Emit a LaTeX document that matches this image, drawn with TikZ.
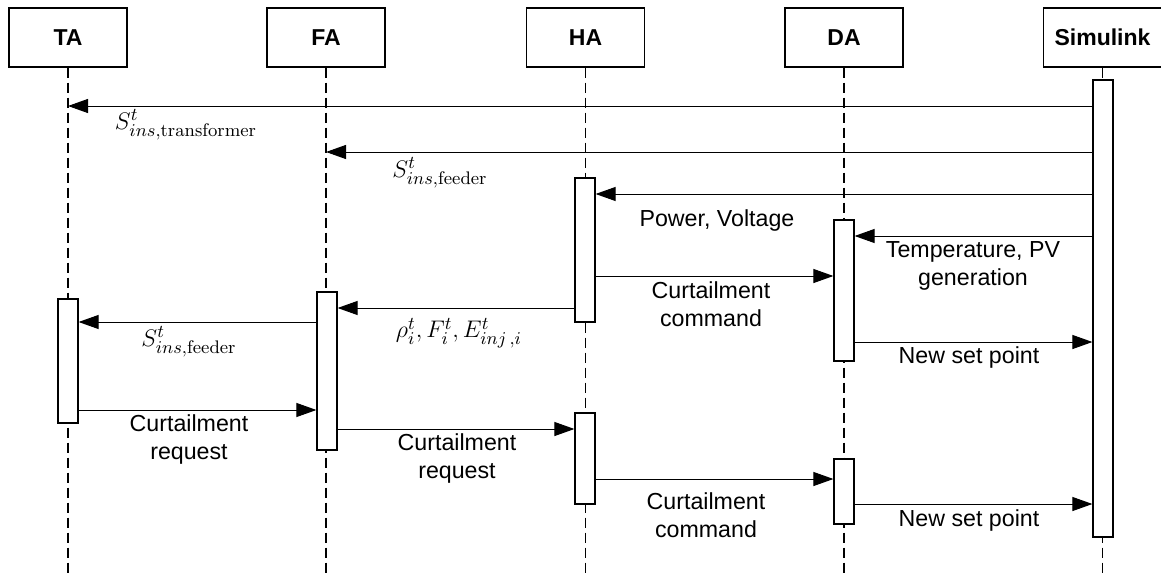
\documentclass[tikz,border=0pt]{standalone}
\usepackage{fontspec}
\newfontfamily\arial{Liberation Sans}
\usetikzlibrary{arrows.meta,fit}

\begin{document}
\begin{tikzpicture}[
  x=0.5pt, y=-0.5pt,
  head/.style={draw, line width=0.6pt, minimum width=59pt, minimum height=29.5pt, inner sep=0pt, font=\arial\bfseries\fontsize{11.5}{13}\selectfont},
  life/.style={dash pattern=on 5pt off 2.5pt, line width=0.6pt},
  act/.style={draw, fill=white, line width=0.6pt, minimum width=10pt, inner sep=0pt},
  msg/.style={-{Triangle[length=10pt,width=7pt]}, line width=0.5pt},
  lbl/.style={align=center, font=\arial\fontsize{11.6}{14}\selectfont},
  mlbl/.style={font=\fontsize{13}{15}\selectfont}
]
\useasboundingbox (0,0) rectangle (1161,573);

\node[head] (ta) at (68,37.5) {TA};
\node[head] (fa) at (326,37.5) {FA};
\node[head] (ha) at (585.5,37.5) {HA};
\node[head] (da) at (844,37.5) {DA};
\node[head] (sim) at (1102.5,37.5) {Simulink};

% lifelines
\draw[life, line width=0.8pt] (ta.south) -- (ta.south |- 0,573);
\draw[life] (fa.south) -- (fa.south |- 0,573);
\draw[life] (ha.south) -- (ha.south |- 0,573);
\draw[life, line width=0.8pt] (da.south) -- (da.south |- 0,573);
\draw[life] (sim.south) -- (sim.south |- 0,573);

% activation bars
\node[act, fit={(1103,80) (1103,537)}] (simact) {};
\node[act, fit={(585,178) (585,322)}] (haact1) {};
\node[act, fit={(844,220) (844,361)}] (daact1) {};
\node[act, fit={(327,292) (327,450)}] (faact) {};
\node[act, fit={(68,299) (68,423)}] (taact) {};
\node[act, fit={(585,413) (585,504)}] (haact2) {};
\node[act, fit={(844,459) (844,524)}] (daact2) {};

% messages
\draw[msg] (simact.west |- 0,106) -- (ta.south |- 0,106);
\draw[msg] (simact.west |- 0,152) -- (fa.south |- 0,152);
\draw[msg] (simact.west |- 0,194) -- (haact1.east |- 0,194);
\draw[msg] (simact.west |- 0,236) -- (daact1.east |- 0,236);
\draw[msg] (haact1.east |- 0,276) -- (daact1.west |- 0,276);
\draw[msg] (haact1.west |- 0,308) -- (faact.east |- 0,308);
\draw[msg] (faact.west |- 0,322) -- (taact.east |- 0,322);
\draw[msg] (daact1.east |- 0,342) -- (simact.west |- 0,342);
\draw[msg] (taact.east |- 0,410) -- (faact.west |- 0,410);
\draw[msg] (faact.east |- 0,429) -- (haact2.west |- 0,429);
\draw[msg] (haact2.east |- 0,479) -- (daact2.west |- 0,479);
\draw[msg] (daact2.east |- 0,504) -- (simact.west |- 0,504);

% labels
\node[mlbl] (s1) at (186,125) {$S^t_{ins,\mathrm{transformer}}$};
\node[mlbl] (s2) at (440,173) {$S^t_{ins,\mathrm{feeder}}$};
\node[lbl] (pv) at (717,220) {Power, Voltage};
\node[lbl] (temp) at (973,266) {Temperature, PV\\generation};
\node[lbl] (cc1) at (711,304.5) {Curtailment\\command};
\node[mlbl] (rho) at (459,333) {$\rho_i^t, F_i^t, E_{inj\,,i}^t$};
\node[mlbl] (s3) at (189,342) {$S^t_{ins,\mathrm{feeder}}$};
\node[lbl] (nsp1) at (969,357) {New set point};
\node[lbl] (cr1) at (189,439.5) {Curtailment\\request};
\node[lbl] (cr2) at (457,458.5) {Curtailment\\request};
\node[lbl] (cc2) at (706,515) {Curtailment\\command};
\node[lbl] (nsp2) at (969,520) {New set point};

\end{tikzpicture}
\end{document}
